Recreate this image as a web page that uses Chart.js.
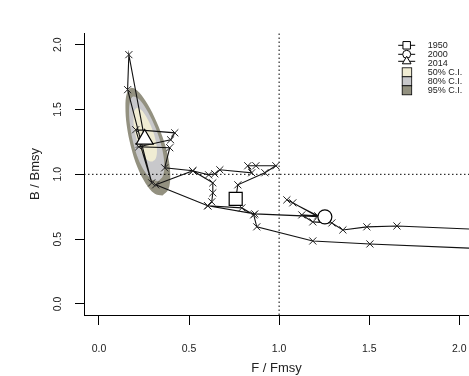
<!DOCTYPE html>
<html>
<head>
<meta charset="utf-8">
<title>Kobe plot</title>
<script src="https://cdn.jsdelivr.net/npm/chart.js@4.4.1/dist/chart.umd.min.js"></script>
<style>
  html, body { margin: 0; padding: 0; background: #fff; }
  #wrap { width: 469px; height: 376px; }
</style>
</head>
<body>
<div id="wrap"><canvas id="kobeChart" width="469" height="376"></canvas></div>
<script>
// stock trajectory, one point per year from firstYear on
var firstYear = 1950;
var fRatio = [
  0.759, 0.771, 0.921, 0.982, 0.871, 0.826, 0.848, 0.671, 0.643, 0.609,
  0.521, 0.632, 0.632, 0.626, 0.604, 0.793, 0.859, 0.876, 1.187, 1.504,
  2.40, 2.85, 3.30, 3.60, 3.95, 3.70, 3.40, 3.10, 3.25, 3.55,
  3.80, 3.45, 3.15, 2.95, 3.20, 3.50, 3.30, 3.00, 2.75, 2.50,
  1.654, 1.487, 1.354, 1.293, 1.187, 1.126, 1.215, 1.043, 1.076, 1.237,
  1.254, 0.865, 0.604, 0.315, 0.521, 0.365, 0.393, 0.221, 0.398, 0.421,
  0.204, 0.293, 0.159, 0.166, 0.254
];
var bRatio = [
  0.811, 0.919, 1.012, 1.066, 1.066, 1.066, 1.012, 1.035, 1.004, 0.996,
  1.027, 0.934, 0.857, 0.788, 0.757, 0.741, 0.687, 0.595, 0.486, 0.463,
  0.41, 0.39, 0.36, 0.33, 0.31, 0.30, 0.32, 0.34, 0.37, 0.35,
  0.38, 0.41, 0.44, 0.47, 0.45, 0.43, 0.48, 0.51, 0.53, 0.553,
  0.602, 0.595, 0.571, 0.625, 0.633, 0.687, 0.680, 0.803, 0.780, 0.656,
  0.672, 0.695, 0.757, 0.919, 1.027, 1.050, 1.205, 1.212, 1.266, 1.320,
  1.344, 0.934, 1.653, 1.923, 1.270
];

// years that get their own symbol
var markYears = [1950, 2000, 2014];
var markStyles = ['rect', 'circle', 'triangle'];
var markRadius = [9.2, 7, 9.8];

// confidence regions around the final year
var ci50F = [0.298, 0.315, 0.322, 0.317, 0.302, 0.279, 0.254, 0.229, 0.210, 0.197, 0.192, 0.194, 0.206, 0.224, 0.248, 0.274];
var ci50B = [1.098, 1.122, 1.174, 1.245, 1.325, 1.402, 1.464, 1.503, 1.512, 1.490, 1.439, 1.367, 1.285, 1.207, 1.144, 1.105];
var ci80F = [0.329, 0.354, 0.363, 0.354, 0.329, 0.293, 0.254, 0.218, 0.190, 0.173, 0.167, 0.173, 0.190, 0.218, 0.254, 0.293];
var ci80B = [0.948, 0.985, 1.066, 1.177, 1.303, 1.424, 1.523, 1.585, 1.600, 1.566, 1.486, 1.375, 1.246, 1.121, 1.022, 0.961];
var ci95F = [0.353, 0.385, 0.396, 0.385, 0.353, 0.308, 0.258, 0.212, 0.177, 0.154, 0.147, 0.154, 0.177, 0.213, 0.259, 0.308];
var ci95B = [0.836, 0.883, 0.986, 1.127, 1.287, 1.441, 1.567, 1.646, 1.666, 1.622, 1.521, 1.378, 1.215, 1.056, 0.930, 0.852];
var ciLabels = ['50% C.I.', '80% C.I.', '95% C.I.'];
var ciColors = ['#f0ecd3', '#c8c8cb', '#939180'];

var xTicks = [0, 0.5, 1, 1.5, 2];
var yTicks = [0, 0.5, 1, 1.5, 2];
var xRange = [-0.083, 2.054];
var yRange = [-0.085, 2.09];
var refLevel = 1;

var FONT = 'Arial, "Liberation Sans", sans-serif';

function toPoints(xs, ys, closed) {
    var pts = [];
    for (var i = 0; i < xs.length; i++) pts.push({ x: xs[i], y: ys[i] });
    if (closed) pts.push({ x: xs[0], y: ys[0] });
    return pts;
}

var years = fRatio.map(function (v, i) { return firstYear + i; });
var track = toPoints(fRatio, bRatio, false);

var markPoints = markYears.map(function (yr) {
    var i = years.indexOf(yr);
    return { x: fRatio[i], y: bRatio[i] };
});

function regionSet(xs, ys, color, order) {
    return {
        data: toPoints(xs, ys, true),
        showLine: true,
        fill: 'shape',
        backgroundColor: color,
        borderColor: color,
        borderWidth: 0,
        pointRadius: 0,
        tension: 0.35,
        order: order
    };
}

// axis titles, rotated y labels and the legend box
var decor = {
    id: 'decor',
    afterDraw: function (chart) {
        var ctx = chart.ctx;
        var a = chart.chartArea;
        var ys = chart.scales.y;
        ctx.save();
        ctx.fillStyle = '#222';
        ctx.textAlign = 'center';
        ctx.textBaseline = 'middle';

        ctx.font = '10.5px ' + FONT;
        yTicks.forEach(function (v) {
            ctx.save();
            ctx.translate(a.left - 26, ys.getPixelForValue(v));
            ctx.rotate(-Math.PI / 2);
            ctx.fillText(v.toFixed(1), 0, 0);
            ctx.restore();
        });

        ctx.font = '13px ' + FONT;
        ctx.fillText('F / Fmsy', (a.left + a.right) / 2, a.bottom + 53);
        ctx.save();
        ctx.translate(a.left - 49, (a.top + a.bottom) / 2);
        ctx.rotate(-Math.PI / 2);
        ctx.fillText('B / Bmsy', 0, 0);
        ctx.restore();

        // legend
        var symX = a.right - 62.3;
        var txtX = a.right - 41.3;
        var row0 = 45.3, step = 9;
        ctx.font = '9px ' + FONT;
        ctx.textAlign = 'left';
        ctx.strokeStyle = '#000';
        ctx.lineWidth = 1;
        markYears.forEach(function (yr, i) {
            var y = row0 + step * i;
            var py = markStyles[i] === 'triangle' ? y - 2 : y;
            ctx.beginPath();
            ctx.moveTo(symX - 8.5, py);
            ctx.lineTo(symX + 8.5, py);
            ctx.stroke();
            ctx.fillStyle = '#fff';
            Chart.helpers.drawPoint(ctx, {
                pointStyle: markStyles[i],
                radius: markStyles[i] === 'rect' ? 5.3 : (markStyles[i] === 'circle' ? 4 : 5),
                rotation: 0,
                borderWidth: 1
            }, symX, py);
            ctx.fillStyle = '#222';
            ctx.fillText(String(yr), txtX, y);
        });
        ciLabels.forEach(function (lab, i) {
            var y = row0 + step * (markYears.length + i);
            ctx.fillStyle = ciColors[i];
            ctx.fillRect(symX - 4.5, y - 4.5, 9.5, 9);
            ctx.lineWidth = 0.8;
            ctx.strokeRect(symX - 4.5, y - 4.5, 9.5, 9);
            ctx.fillStyle = '#222';
            ctx.fillText(lab, txtX, y);
        });
        ctx.restore();
    }
};

var chart = new Chart(document.getElementById('kobeChart'), {
    type: 'scatter',
    data: {
        datasets: [
            {
                data: markPoints,
                pointStyle: markStyles,
                pointRadius: markRadius,
                pointBackgroundColor: '#fff',
                pointBorderColor: '#000',
                pointBorderWidth: 1.2,
                showLine: false,
                order: 0
            },
            {
                data: track,
                showLine: true,
                borderColor: '#111',
                borderWidth: 1.1,
                pointStyle: 'crossRot',
                pointRadius: 5,
                pointBorderColor: '#222',
                pointBorderWidth: 1,
                tension: 0,
                order: 1
            },
            {
                data: [{ x: refLevel, y: yRange[0] }, { x: refLevel, y: yRange[1] }],
                showLine: true,
                borderColor: '#000',
                borderWidth: 1,
                borderDash: [1.5, 2.5],
                pointRadius: 0,
                order: 2
            },
            {
                data: [{ x: xRange[0], y: refLevel }, { x: xRange[1], y: refLevel }],
                showLine: true,
                borderColor: '#000',
                borderWidth: 1,
                borderDash: [1.5, 2.5],
                pointRadius: 0,
                order: 2
            },
            regionSet(ci50F, ci50B, ciColors[0], 3),
            regionSet(ci80F, ci80B, ciColors[1], 4),
            regionSet(ci95F, ci95B, ciColors[2], 5)
        ]
    },
    options: {
        responsive: false,
        devicePixelRatio: 1,
        animation: false,
        layout: { autoPadding: false, padding: { top: 33, left: 0, right: 0, bottom: 0 } },
        plugins: { legend: { display: false }, tooltip: { enabled: false } },
        scales: {
            x: {
                type: 'linear',
                min: xRange[0],
                max: xRange[1],
                afterBuildTicks: function (s) { s.ticks = xTicks.map(function (v) { return { value: v }; }); },
                afterFit: function (s) { s.height = 61; s.paddingLeft = 0; s.paddingRight = 0; },
                grid: { drawOnChartArea: false, drawTicks: true, tickLength: 10, tickColor: '#000', lineWidth: 1 },
                border: { display: true, color: '#000', width: 1 },
                ticks: {
                    autoSkip: false,
                    maxRotation: 0,
                    padding: 18,
                    color: '#222',
                    font: { family: FONT, size: 10.5 },
                    callback: function (v) { return Number(v).toFixed(1); }
                }
            },
            y: {
                type: 'linear',
                min: yRange[0],
                max: yRange[1],
                afterBuildTicks: function (s) { s.ticks = yTicks.map(function (v) { return { value: v }; }); },
                afterFit: function (s) { s.width = 84; s.paddingTop = 0; s.paddingBottom = 0; },
                grid: { drawOnChartArea: false, drawTicks: true, tickLength: 9, tickColor: '#000', lineWidth: 1 },
                border: { display: true, color: '#000', width: 1 },
                ticks: { autoSkip: false, callback: function () { return ''; } }
            }
        }
    },
    plugins: [decor]
});
</script>
</body>
</html>
